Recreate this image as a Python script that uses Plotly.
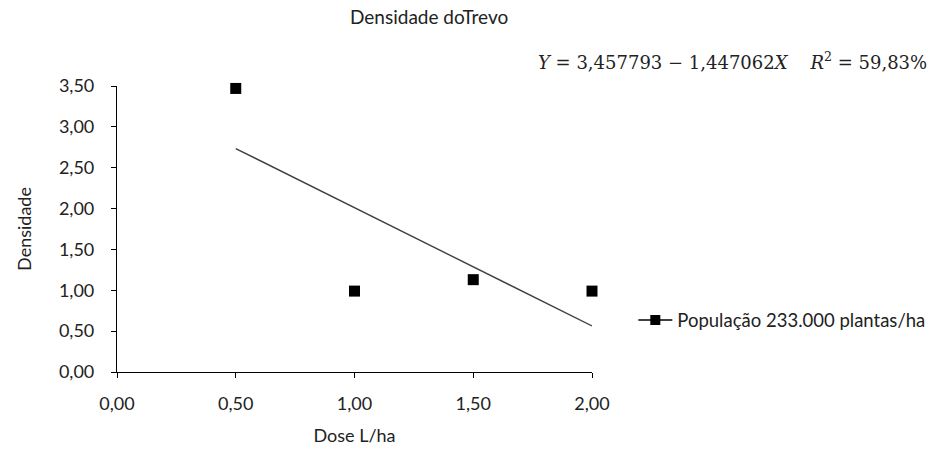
import plotly.graph_objects as go

# Dose (L/ha) and observed clover density
dose = [0.5, 1.0, 1.5, 2.0]
densidade = [3.47, 0.99, 1.13, 0.99]

# Linear fit coefficients
intercepto = 3.457793
inclinacao = -1.447062
r2_pct = 59.83

x_ticks = [0.0, 0.5, 1.0, 1.5, 2.0]
y_ticks = [0.0, 0.5, 1.0, 1.5, 2.0, 2.5, 3.0, 3.5]


def br(v):
    return f"{v:.2f}".replace(".", ",")


fit_x = [dose[0], dose[-1]]
fit_y = [intercepto + inclinacao * v for v in fit_x]

fig = go.Figure()

fig.add_trace(go.Scatter(
    x=fit_x, y=fit_y, mode="lines",
    line=dict(color="#404040", width=1.4),
    showlegend=False, hoverinfo="skip", cliponaxis=False,
))

fig.add_trace(go.Scatter(
    x=dose, y=densidade, mode="markers",
    marker=dict(symbol="square", size=11, color="black"),
    showlegend=False, cliponaxis=False,
))

# legend entry for the series
fig.add_trace(go.Scatter(
    x=[None], y=[None], mode="lines+markers",
    name="População 233.000 plantas/ha",
    line=dict(color="black", width=1.4),
    marker=dict(symbol="square", size=10, color="black"),
))

font_main = "Lato, 'Open Sans', sans-serif"

fig.update_layout(
    width=939, height=458,
    margin=dict(l=117, r=347, t=86, b=86, autoexpand=False),
    paper_bgcolor="white", plot_bgcolor="white",
    font=dict(family=font_main, size=18, color="#222222"),
    title=dict(text="Densidade doTrevo", x=0.457, xanchor="center",
               y=0.963, yanchor="middle", font=dict(size=19)),
    showlegend=True,
    legend=dict(x=1.087, y=0.18, xanchor="left", yanchor="middle",
                bgcolor="rgba(0,0,0,0)", font=dict(size=18.5),
                itemwidth=34),
    xaxis=dict(
        range=[0, 2], tickvals=x_ticks, ticktext=[br(v) for v in x_ticks],
        showgrid=False, zeroline=False, showline=True, automargin=False,
        linecolor="black", linewidth=1.2,
        ticks="outside", ticklen=5, tickcolor="black",
        ticklabelstandoff=10,
        tickfont=dict(size=18),
        title=dict(text="Dose L/ha", font=dict(size=18), standoff=16),
    ),
    yaxis=dict(
        range=[0, 3.5], tickvals=y_ticks, ticktext=[br(v) for v in y_ticks],
        showgrid=False, zeroline=False, showline=True, automargin=False,
        linecolor="black", linewidth=1.2,
        ticks="outside", ticklen=5, tickcolor="black",
        ticklabelstandoff=13,
        tickfont=dict(size=18),
        title=dict(text="Densidade", font=dict(size=18), standoff=22),
    ),
)

eq = (f"<i>Y</i> = {intercepto:.6f} − {abs(inclinacao):.6f}<i>X</i>"
      f"&nbsp;&nbsp;&nbsp;&nbsp;<i>R</i><sup>2</sup> = {r2_pct:.2f}%").replace(".", ",")

fig.add_annotation(
    text=eq, xref="paper", yref="paper",
    x=1.71, y=1.088, xanchor="right", yanchor="middle",
    showarrow=False,
    font=dict(family="'DejaVu Serif', 'Liberation Serif', serif", size=18,
              color="#222222"),
)

fig.write_html("out.html")
